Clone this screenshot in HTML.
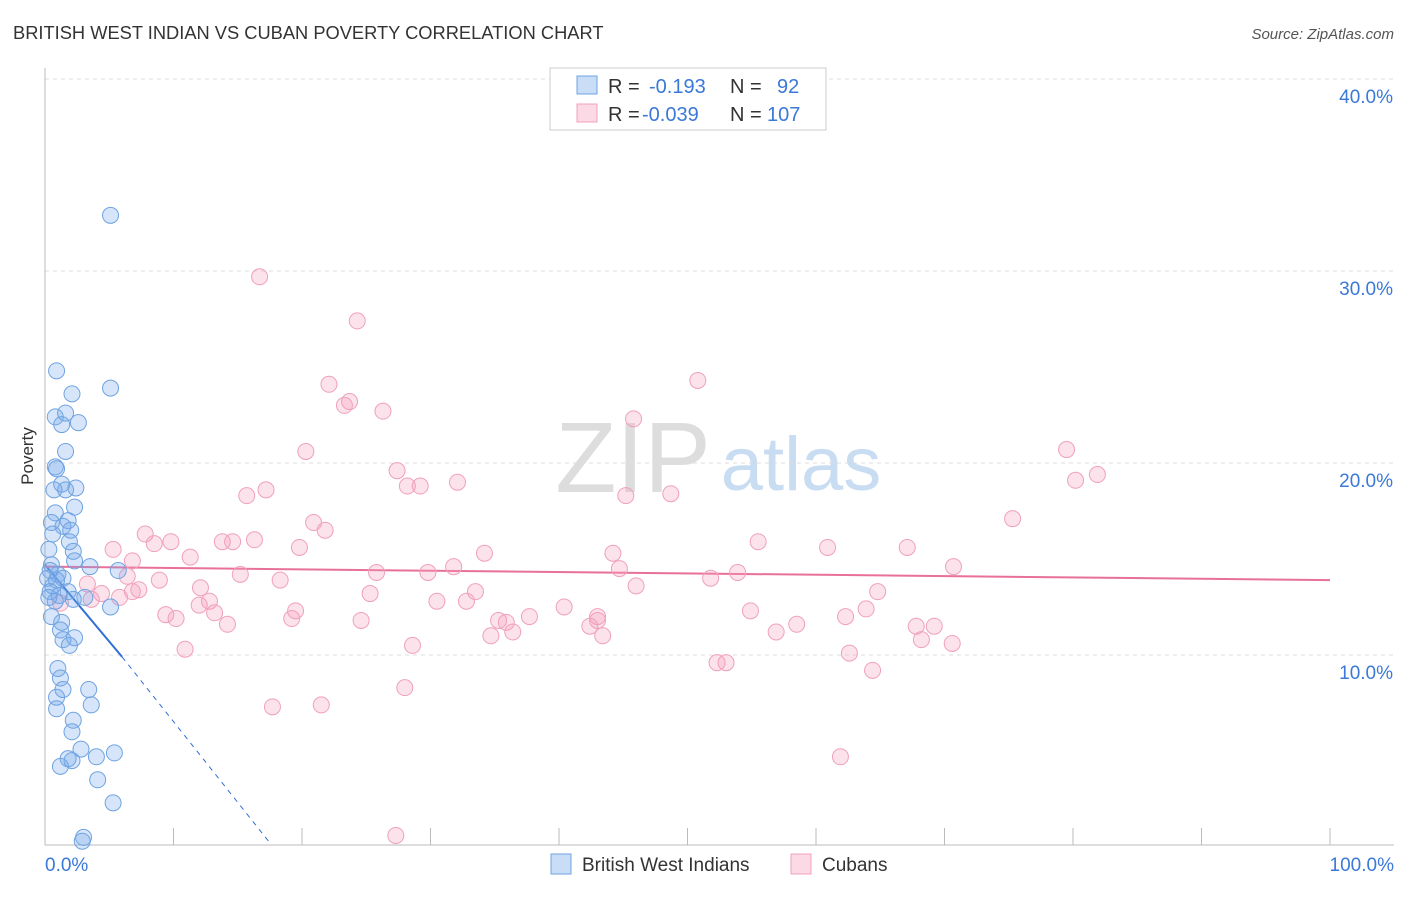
<!DOCTYPE html>
<html><head><meta charset="utf-8">
<style>
body{margin:0;background:#fff;font-family:"Liberation Sans",sans-serif;}
svg text{font-family:"Liberation Sans",sans-serif;}
</style></head>
<body>
<svg id="chart" width="1406" height="892" viewBox="0 0 1406 892" xmlns="http://www.w3.org/2000/svg">
<text x="13" y="39" font-size="18.3" fill="#333">BRITISH WEST INDIAN VS CUBAN POVERTY CORRELATION CHART</text>
<text x="1394" y="39" font-size="15" fill="#555" text-anchor="end" font-style="italic">Source: ZipAtlas.com</text>
<g>
<text x="633" y="492" font-size="100" fill="#ddd" font-family="Liberation Serif, serif" text-anchor="middle">ZIP</text>
<text x="801" y="490" font-size="76" fill="#c8dcf2" text-anchor="middle">atlas</text>
</g>
<g id="grid"></g>
<g id="axes"></g>
<g id="lines"></g>
<g id="points"></g>
<text transform="translate(33,456) rotate(-90)" font-size="17" fill="#333" text-anchor="middle">Poverty</text>
<g>
<rect x="550" y="68" width="276" height="62" fill="#fff" stroke="#ccc"/>
<rect x="577" y="76" width="20" height="18" fill="rgba(120,170,235,0.4)" stroke="#6fa3e0"/>
<text x="608" y="93" font-size="20" fill="#333">R = </text>
<text x="649" y="93" font-size="20" fill="#3b78d8">-0.193</text>
<text x="730" y="93" font-size="20" fill="#333">N = </text>
<text x="777" y="93" font-size="20" fill="#3b78d8">92</text>
<rect x="577" y="104" width="20" height="18" fill="rgba(245,160,190,0.4)" stroke="#f0a0bc"/>
<text x="608" y="121" font-size="20" fill="#333">R = </text>
<text x="642" y="121" font-size="20" fill="#3b78d8">-0.039</text>
<text x="730" y="121" font-size="20" fill="#333">N = </text>
<text x="767" y="121" font-size="20" fill="#3b78d8">107</text>
</g>
<g>
<rect x="551" y="854" width="20" height="20" fill="rgba(120,170,235,0.4)" stroke="#6fa3e0"/>
<text x="582" y="871" font-size="19" fill="#333">British West Indians</text>
<rect x="791" y="854" width="20" height="20" fill="rgba(245,160,190,0.4)" stroke="#f0a0bc"/>
<text x="822" y="871" font-size="19" fill="#333">Cubans</text>
</g>
</svg>
<script>
const yTicks=[10,20,30,40];
const yTickLabels=["10.0%","20.0%","30.0%","40.0%"];
const xTickLabels=["0.0%","100.0%"];
const blueX=[5.1,0.9,5.1,2.1,0.8,1.6,2.6,1.3,1.6,0.8,0.9,1.3,2.4,1.6,0.7,2.3,0.8,1.8,0.5,1.4,2.0,0.6,1.9,0.3,2.2,2.3,3.5,5.7,0.5,0.4,1.0,0.2,0.9,1.4,0.6,0.4,1.8,1.1,3.1,0.3,0.8,2.2,5.1,0.5,1.3,1.2,2.3,1.4,1.9,1.0,1.2,1.4,3.4,0.9,3.6,0.9,2.2,2.1,2.8,5.4,4.0,1.8,2.1,1.2,4.1,5.3,3.0,2.9];
const blueY=[32.9,24.8,23.9,23.6,22.4,22.6,22.1,22.0,20.6,19.8,19.7,18.9,18.7,18.6,18.6,17.7,17.4,17.0,16.9,16.7,16.5,16.3,15.9,15.5,15.4,14.9,14.6,14.4,14.7,14.4,14.2,14.0,13.9,14.0,13.6,13.3,13.3,13.1,13.0,13.0,12.8,12.9,12.5,12.0,11.7,11.3,10.9,10.8,10.5,9.3,8.8,8.2,8.2,7.8,7.4,7.2,6.6,6.0,5.1,4.9,4.7,4.6,4.5,4.2,3.5,2.3,0.5,0.3];
const pinkX=[16.7,24.3,22.1,50.8,23.7,23.3,26.3,45.8,20.3,79.5,81.9,80.2,27.4,32.1,28.2,29.2,17.2,15.7,45.2,48.7,75.3,20.9,21.8,7.8,16.3,13.8,14.6,9.8,8.5,55.5,60.9,67.1,5.3,19.8,34.2,44.2,11.3,6.8,31.8,70.7,25.8,44.7,53.9,29.8,15.2,6.4,51.8,8.9,18.3,3.3,46.0,7.3,12.1,64.8,33.5,4.4,6.8,25.3,12.8,5.8,1.2,3.6,30.5,32.8,12.0,40.4,54.9,19.5,63.9,9.4,13.2,10.2,19.2,43.0,37.7,62.3,35.3,35.9,43.0,24.6,14.2,42.4,58.5,67.8,69.2,36.4,34.7,56.9,43.4,68.2,70.6,28.6,10.9,62.6,52.3,53.0,64.4,28.0,17.7,21.5,61.9,27.3];
const pinkY=[29.7,27.4,24.1,24.3,23.2,23.0,22.7,22.3,20.6,20.7,19.4,19.1,19.6,19.0,18.8,18.8,18.6,18.3,18.3,18.4,17.1,16.9,16.5,16.3,16.0,15.9,15.9,15.9,15.8,15.9,15.6,15.6,15.5,15.6,15.3,15.3,15.1,14.9,14.6,14.6,14.3,14.5,14.3,14.3,14.2,14.1,14.0,13.9,13.9,13.7,13.6,13.4,13.5,13.3,13.3,13.2,13.3,13.2,12.8,13.0,12.7,12.9,12.8,12.8,12.6,12.5,12.3,12.3,12.4,12.1,12.2,11.9,11.9,12.0,12.0,12.0,11.8,11.7,11.8,11.8,11.6,11.5,11.6,11.5,11.5,11.2,11.0,11.2,11.0,10.8,10.6,10.5,10.3,10.1,9.6,9.6,9.2,8.3,7.3,7.4,4.7,0.6];
const blueTrend=[[0,14.7],[6.0,9.9],[17.4,0.3]];
const pinkTrend=[[0,14.6],[100,13.9]];
const NS="http://www.w3.org/2000/svg";
const X0=45,X1=1330,Y0=847,PXPER=19.2;
const sx=v=>X0+(X1-X0)*v/100;
const sy=v=>Y0-v*PXPER;
function mk(tag,attrs,parent){const e=document.createElementNS(NS,tag);for(const k in attrs)e.setAttribute(k,attrs[k]);parent.appendChild(e);return e;}
const grid=document.getElementById('grid');
yTicks.forEach((t,i)=>{
  const l=mk('line',{x1:45,x2:1394,y1:sy(t),y2:sy(t),stroke:'#ddd','stroke-dasharray':'4,4'},grid);
  
  
  const tx=mk('text',{x:1393,y:sy(t)+24,'font-size':19,fill:'#3b78d8','text-anchor':'end'},grid);
  tx.textContent=yTickLabels[i];
  
  
});
const axes=document.getElementById('axes');
const ax=mk('line',{x1:45,x2:1394,y1:845,y2:845,stroke:'#bbb'},axes);


const ay=mk('line',{x1:45,x2:45,y1:68,y2:845,stroke:'#bbb'},axes);


for(let i=0;i<=10;i++){
  const tk=mk('line',{x1:sx(i*10),x2:sx(i*10),y1:828,y2:845,stroke:'#bbb'},axes);
  
  
}
[[0,'start',45],[100,'end',1394]].forEach((p,i)=>{
  const tx=mk('text',{x:p[2],y:871,'font-size':19,fill:'#3b78d8','text-anchor':p[1]},axes);
  tx.textContent=xTickLabels[i];
  
  
});
const pts=document.getElementById('points');
pinkX.forEach((v,i)=>{
  const c=mk('circle',{cx:sx(v),cy:sy(pinkY[i]),r:8,fill:'rgba(245,160,190,0.3)',stroke:'#f0a0bc','stroke-width':1},pts);
  
  
});
blueX.forEach((v,i)=>{
  const c=mk('circle',{cx:sx(v),cy:sy(blueY[i]),r:8,fill:'rgba(120,170,235,0.3)',stroke:'#6fa3e0','stroke-width':1},pts);
  
  
});
const lines=document.getElementById('lines');
const b1=mk('line',{x1:sx(blueTrend[0][0]),y1:sy(blueTrend[0][1]),x2:sx(blueTrend[1][0]),y2:sy(blueTrend[1][1]),stroke:'#2f6fd6','stroke-width':2},lines);


const b2=mk('line',{x1:sx(blueTrend[1][0]),y1:sy(blueTrend[1][1]),x2:sx(blueTrend[2][0]),y2:sy(blueTrend[2][1]),stroke:'#2f6fd6','stroke-width':1,'stroke-dasharray':'5,5'},lines);


const p1=mk('line',{x1:sx(pinkTrend[0][0]),y1:sy(pinkTrend[0][1]),x2:sx(pinkTrend[1][0]),y2:sy(pinkTrend[1][1]),stroke:'#e8709a','stroke-width':2},lines);


</script>
</body></html>
